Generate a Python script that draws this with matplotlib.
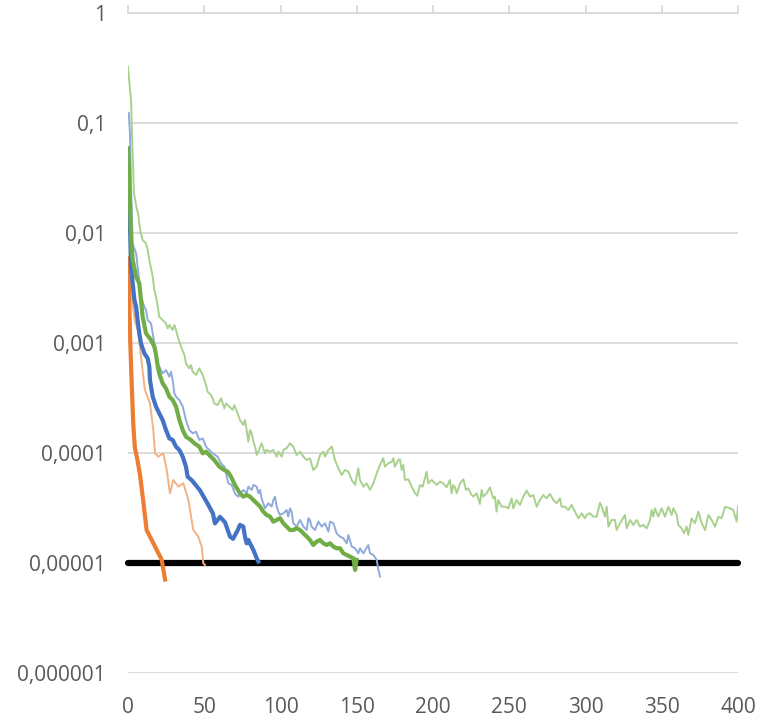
import matplotlib
matplotlib.use("Agg")
import matplotlib.pyplot as plt
import numpy as np
from matplotlib.ticker import FixedLocator, FixedFormatter, NullLocator

# ---- data: x and log10(y) ----
orange_x = [0, 0.8, 1.5, 2.5, 3.5, 4.5, 6, 7.9, 10.1, 12.2, 14.4, 16.6, 18.8, 21, 22.1, 24.3]
orange_e = [-2.23, -2.6, -3.0, -3.4, -3.75, -3.95, -4.05, -4.2, -4.45, -4.70, -4.76, -4.82, -4.88, -4.94, -4.97, -5.15]

lorange_x = [0, 1.5, 3.1, 4.5, 6.8, 9.0, 11.1, 14.4, 16.6, 17.7, 19.9, 23.2, 25.4, 27.5, 29.7, 33.0, 36.3, 39.6, 42.8, 46.1, 48.3, 49.4, 50.5]
lorange_e = [-2.23, -2.4, -2.65, -2.8, -2.9, -3.185, -3.427, -3.549, -3.791, -4.003, -4.033, -4.003, -4.154, -4.367, -4.245, -4.306, -4.276, -4.427, -4.700, -4.760, -4.851, -5.003, -5.018]

blue_x = [0, 1, 2.0, 3.1, 4.2, 5.3, 6.3, 7.4, 8.5, 10.7, 12.9, 14.0, 14.4, 16.2, 18.4, 20.5, 22.7, 24.9, 27.1, 29.3, 31.5, 33.7, 35.9, 38.0, 39.1,
          42, 47.2, 51.8, 55.7, 57, 60.3, 63.6, 66.9, 68.9, 72, 73.4, 75.6, 76.7, 77.8, 78.9, 80.0, 82.2, 84.4, 85.5]
blue_e = [-1.3, -1.8, -2.306, -2.458, -2.609, -2.670, -2.791, -2.912, -3.003, -3.094, -3.140, -3.215, -3.337, -3.488, -3.579, -3.640, -3.700, -3.791, -3.867, -3.882, -3.943, -3.973, -4.034, -4.124, -4.215,
          -4.25, -4.34, -4.45, -4.55, -4.64, -4.58, -4.63, -4.76, -4.78, -4.70, -4.654, -4.669, -4.760, -4.821, -4.790, -4.821, -4.881, -4.957, -4.987]

lblue_x = [0.5, 1.3, 2, 3.1, 5.3, 6.3, 7.4, 8.5, 10.7, 11.8, 12.9, 15.1, 16.2, 17.3, 18.4, 19.5, 22.7, 24.9, 27.1, 28.2, 29.3, 30.4, 31.5, 33.7, 35.9, 38.0, 40.2, 42.4, 44.6, 46.8, 49.0, 51.2, 53.3, 55.5, 58.8, 61.0, 63.2,
           65.8, 68.0, 70.2, 72.3,
           75.6, 77.8, 78.9, 81.1, 82.2, 84.4, 85.5, 86.6, 87.6, 89.8, 92.0, 94.2, 95.3, 96.4, 97.5, 98.6, 99.7, 101.9, 104.0, 105.1, 106.2, 107.3, 108.4, 110.6, 112.8, 115.0, 117.2, 118.3, 119.3, 120.4, 122.6, 124.8, 127.0, 129.2, 131.4, 132.5, 134.7, 136.8, 139.0, 141.2, 143.4, 144.5, 146.7, 148.9, 151.0, 152.1, 154.3, 157.6, 158.7, 160.9, 163.1, 164.2, 165.3]
lblue_e = [-0.91, -1.09, -1.6, -2.1, -2.185, -2.306, -2.428, -2.579, -2.670, -2.700, -2.791, -2.822, -2.912, -3.003, -3.064, -3.185, -3.276, -3.246, -3.306, -3.261, -3.337, -3.458, -3.488, -3.518, -3.579, -3.700, -3.791, -3.821, -3.806, -3.882, -3.867, -3.943, -3.973, -4.003, -4.034, -4.094, -4.124,
           -4.276, -4.29, -4.37, -4.397,
           -4.336, -4.366, -4.306, -4.336, -4.290, -4.306, -4.366, -4.336, -4.412, -4.503, -4.457, -4.487, -4.427, -4.397, -4.487, -4.533, -4.563, -4.548, -4.518, -4.578, -4.503, -4.533, -4.639, -4.669, -4.609, -4.669, -4.700, -4.593, -4.609, -4.669, -4.700, -4.624, -4.669, -4.639, -4.715, -4.624, -4.639, -4.730, -4.760, -4.775, -4.821, -4.745, -4.851, -4.866, -4.912, -4.866, -4.912, -4.836, -4.912, -4.927, -4.972, -5.063, -5.124]

green_x = [0, 1.3, 2.0, 3.1, 5.3, 7.4, 8.5, 9.6, 11.8, 15.1, 17.3, 18.4, 19.5, 20.5, 22.7, 24.9, 27.1, 29.3, 31.5, 33.7, 35.9, 38.0, 41.3, 43.5, 46.8, 49.0, 51.2, 54.4, 56.6, 59.9, 63.2, 65.4, 67.5, 70.5,
           73.4, 75.6, 77.8, 80.0, 82.2, 84.4, 86.6, 88.7, 90.9, 93.1, 95.3, 97.5, 99.7, 101.9, 104.0, 106.2, 108.4, 110.6, 112.8, 115.0, 117.2, 119.3, 121.5, 123.7, 125.9, 128.1, 130.3, 132.5, 134.7, 136.8, 139.0, 141.2, 143.4, 145.6, 147.8, 148.9, 149.9]
green_e = [-1.23, -1.70, -2.064, -2.246, -2.397, -2.458, -2.609, -2.761, -2.912, -2.973, -3.034, -3.109, -3.215, -3.276, -3.367, -3.412, -3.488, -3.518, -3.579, -3.700, -3.791, -3.852, -3.882, -3.912, -3.943, -4.003, -3.988, -4.034, -4.064, -4.124, -4.155, -4.170, -4.215, -4.30,
           -4.366, -4.397, -4.381, -4.397, -4.427, -4.457, -4.487, -4.533, -4.563, -4.578, -4.624, -4.609, -4.593, -4.639, -4.669, -4.700, -4.700, -4.684, -4.700, -4.730, -4.760, -4.790, -4.836, -4.806, -4.790, -4.821, -4.836, -4.821, -4.851, -4.866, -4.866, -4.912, -4.927, -4.942, -4.957, -5.063, -4.972]

lgreen_x = [0, 1, 2, 2.6, 3.3, 3.9, 5.9, 6.6, 7.9,
            9.6, 11.8, 12.9, 14.0, 16.2, 17.3, 18.4, 19.5, 20.5, 22.7, 24.9, 26.0, 27.1, 29.3, 30.4, 31.5, 32.6, 34.8, 37.0, 38.0, 40.2, 41.3, 42.4, 44.6, 45.7, 46.8, 49.0, 50.1, 51.2, 52.2, 54.4, 55.5, 56.6, 58.8, 61.0, 63.2, 64.3, 66.5, 68.6, 69.7, 71.9,
            73.4, 75.6, 76.7, 77.8, 78.9, 80.0, 81.1, 82.2, 83.3, 84.4, 85.5, 87.6, 89.8, 90.9, 93.1, 95.3, 97.5, 98.6, 100.8, 101.9, 104.0, 106.2, 108.4, 110.6, 112.8, 115.0, 117.2, 119.3, 121.5, 123.7, 125.9, 128.1, 129.2, 131.4, 133.6, 135.7, 137.9, 140.1, 142.3, 144.5, 146.7, 148.9, 151.0, 152.1, 154.3, 156.5, 158.7, 160.9, 163.1,
            165.2, 167.4, 168.5, 170.7, 172.9, 174.0, 175.0, 177.2, 178.3, 179.4, 180.5, 181.6, 183.8, 186.0, 188.2, 189.7, 191.4, 193.2, 194.7, 195.8, 196.9, 199.1, 200.2, 202.4, 204.6, 206.7, 208.9, 211.1, 212.2, 213.3, 214.4, 215.5, 217.7, 219.9, 221.6, 223.1, 225.3, 226.4, 228.6, 230.8, 231.9, 233.0, 235.2, 237.3, 239.5, 240.6, 241.7, 242.8, 245.0, 247.2, 249.4, 251.6, 252.6, 254.8, 257.0, 259.2, 261.4, 263.6, 265.8, 268.0, 270.1, 272.3, 274.5, 276.7, 278.9, 281.1, 283.2, 284.3, 286.5, 288.7, 290.9, 293.1, 295.3, 297.5, 299.6, 300.7, 302.9, 305.1, 307.3, 308.4, 309.5, 310.6, 312.8, 313.9, 315.0, 317.1, 319.3, 320.4, 322.6, 325.9, 327.0, 329.2, 331.4, 333.5, 335.7, 337.9, 340.1, 342.3, 343.4, 344.5, 345.6, 347.7, 349.9, 352.1, 354.3, 356.5, 357.6, 359.8, 360.9, 363.0, 364.6, 366.3, 367.4, 369.6, 371.8, 374.0, 376.2, 378.4, 380.6, 382.7, 384.9, 387.1, 389.3, 391.5, 394.8, 396.9, 399.1, 400.0]
lgreen_e = [-0.49, -0.65, -0.79, -1.09, -1.4, -1.64, -1.79, -1.82, -1.97,
            -2.064, -2.094, -2.155, -2.246, -2.397, -2.519, -2.579, -2.670, -2.761, -2.791, -2.822, -2.867, -2.837, -2.882, -2.837, -2.882, -2.943, -3.034, -3.109, -3.185, -3.231, -3.200, -3.261, -3.291, -3.261, -3.231, -3.291, -3.337, -3.382, -3.443, -3.473, -3.503, -3.549, -3.564, -3.503, -3.594, -3.549, -3.579, -3.609, -3.564, -3.640,
            -3.700, -3.745, -3.700, -3.791, -3.897, -3.791, -3.821, -3.897, -3.942, -4.018, -3.987, -3.912, -4.003, -3.972, -3.987, -3.972, -4.033, -3.987, -4.033, -3.972, -3.957, -3.912, -3.942, -4.018, -3.987, -4.033, -4.063, -4.048, -4.154, -4.124, -4.018, -3.987, -4.033, -3.972, -3.942, -4.063, -4.139, -4.200, -4.154, -4.169, -4.245, -4.290, -4.139, -4.245, -4.306, -4.275, -4.336, -4.275, -4.184,
            -4.109, -4.048, -4.124, -4.094, -4.079, -4.048, -4.124, -4.063, -4.057, -4.154, -4.109, -4.245, -4.239, -4.306, -4.366, -4.388, -4.291, -4.306, -4.230, -4.169, -4.276, -4.245, -4.260, -4.291, -4.260, -4.276, -4.312, -4.245, -4.366, -4.291, -4.312, -4.366, -4.276, -4.239, -4.336, -4.321, -4.382, -4.397, -4.366, -4.463, -4.336, -4.397, -4.366, -4.312, -4.412, -4.397, -4.533, -4.427, -4.488, -4.488, -4.503, -4.412, -4.503, -4.427, -4.472, -4.397, -4.342, -4.397, -4.382, -4.488, -4.427, -4.382, -4.412, -4.372, -4.427, -4.457, -4.412, -4.488, -4.488, -4.518, -4.472, -4.533, -4.594, -4.548, -4.594, -4.563, -4.548, -4.579, -4.579, -4.518, -4.451, -4.488, -4.579, -4.488, -4.669, -4.609, -4.609, -4.700, -4.639, -4.563, -4.685, -4.609, -4.654, -4.609, -4.669, -4.654, -4.685, -4.609, -4.518, -4.579, -4.503, -4.579, -4.503, -4.579, -4.488, -4.563, -4.503, -4.563, -4.654, -4.685, -4.730, -4.669, -4.745, -4.594, -4.639, -4.533, -4.639, -4.700, -4.563, -4.609, -4.669, -4.579, -4.594, -4.488, -4.503, -4.518, -4.624, -4.488]

threshold_x = [0, 400]
threshold_y = [1e-5, 1e-5]

y_ticks = [1e-6, 1e-5, 1e-4, 1e-3, 1e-2, 1e-1, 1]
y_labels = ["0,000001", "0,00001", "0,0001", "0,001", "0,01", "0,1", "1"]
x_ticks = [0, 50, 100, 150, 200, 250, 300, 350, 400]


def vals(e):
    return 10 ** np.asarray(e, dtype=float)


fig = plt.figure(figsize=(7.59, 7.2), dpi=100)
ax = fig.add_axes([128/759, 1-673/720, 610/759, 660/720])
ax.set_yscale("log")
ax.set_xlim(0, 400)
ax.set_ylim(1e-6, 1)

grid_c = "#D9D9D9"
for yt in y_ticks:
    ax.axhline(yt, color=grid_c, lw=1.3, zorder=0)

ax.plot(threshold_x, threshold_y, color="black", lw=4.5, solid_capstyle="round", zorder=2, clip_on=False)
ax.plot(lorange_x, vals(lorange_e), color="#F4B183", lw=1.4, zorder=3)
ax.plot(lblue_x, vals(lblue_e), color="#8FAADC", lw=1.4, zorder=3)
ax.plot(lgreen_x, vals(lgreen_e), color="#A9D18E", lw=1.4, zorder=3)
ax.plot(orange_x, vals(orange_e), color="#ED7D31", lw=3.0, zorder=4)
ax.plot(blue_x, vals(blue_e), color="#4472C4", lw=3.0, zorder=4)
ax.plot(green_x, vals(green_e), color="#70AD47", lw=3.0, zorder=4)

for s in ["left", "right", "bottom"]:
    ax.spines[s].set_visible(False)
ax.spines["top"].set_color(grid_c)
ax.spines["top"].set_linewidth(1.3)

ax.yaxis.set_major_locator(FixedLocator(y_ticks))
ax.yaxis.set_major_formatter(FixedFormatter(y_labels))
ax.yaxis.set_minor_locator(NullLocator())
ax.tick_params(axis="y", left=False, right=False, pad=12.5, labelsize=15, labelcolor="#595959")

ax.set_xticks(x_ticks)
ax.set_xticklabels([str(v) for v in x_ticks])
ax.tick_params(axis="x", top=True, bottom=False, labeltop=False, labelbottom=True,
               direction="out", length=6, width=1.3, color=grid_c,
               pad=11, labelsize=15, labelcolor="#595959")
for lab in ax.get_xticklabels() + ax.get_yticklabels():
    lab.set_fontfamily("Open Sans")

fig.savefig("out.png", dpi=100, facecolor="white")
